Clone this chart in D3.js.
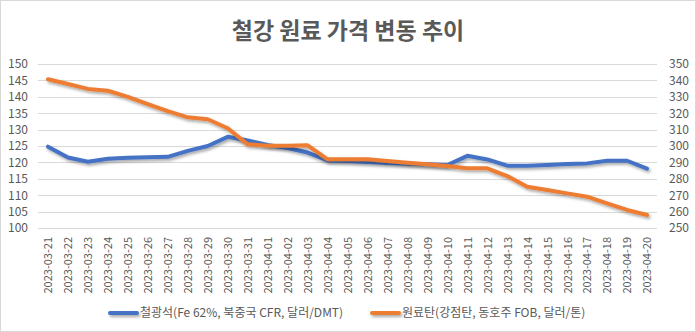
<!DOCTYPE html>
<html>
<head>
<meta charset="utf-8">
<script src="https://cdn.jsdelivr.net/npm/d3@7"></script>
<style>
  body { margin: 0; background: #fff; }
  svg text { font-family: "Noto Sans CJK KR", "Noto Sans", sans-serif; fill: #595959; }
</style>
</head>
<body>
<div id="chart"></div>
<script>
var dates = ["2023-03-21","2023-03-22","2023-03-23","2023-03-24","2023-03-25","2023-03-26","2023-03-27",
  "2023-03-28","2023-03-29","2023-03-30","2023-03-31","2023-04-01","2023-04-02","2023-04-03",
  "2023-04-04","2023-04-05","2023-04-06","2023-04-07","2023-04-08","2023-04-09","2023-04-10",
  "2023-04-11","2023-04-12","2023-04-13","2023-04-14","2023-04-15","2023-04-16","2023-04-17",
  "2023-04-18","2023-04-19","2023-04-20"];

// 철광석, left axis
var ironOre = [124.8,121.5,120.2,121.1,121.4,121.6,121.7,123.5,125.0,127.8,126.7,125.3,124.4,123.0,
  120.6,120.4,120.1,119.8,119.6,119.4,119.2,122.0,120.9,119.0,119.0,119.2,119.5,119.7,120.5,120.5,118.1];

// 원료탄, right axis
var cokingCoal = [340.7,337.8,334.8,333.7,330.0,325.6,321.3,317.5,316.3,310.8,301.0,300.2,300.2,300.4,
  291.9,291.9,291.9,290.8,289.8,288.8,287.8,286.5,286.4,281.7,275.2,273.2,271.1,269.1,265.0,261.0,257.9];

var leftTicks = [100,105,110,115,120,125,130,135,140,145,150];
var rightTicks = [250,260,270,280,290,300,310,320,330,340,350];

var title = "철강 원료 가격 변동 추이";
var seriesNames = ["철광석(Fe 62%, 북중국 CFR, 달러/DMT)", "원료탄(강점탄, 동호주 FOB, 달러/톤)"];
var colors = ["#4472C4", "#ED7D31"];

var W = 696, H = 332;
var margin = {top: 64, right: 39, bottom: 104, left: 38},
    width = W - margin.left - margin.right,
    height = H - margin.top - margin.bottom;

var svg = d3.select("#chart").append("svg")
    .attr("width", W)
    .attr("height", H);

svg.append("rect")
    .attr("x", 0.5).attr("y", 0.5)
    .attr("width", W - 1).attr("height", H - 1)
    .attr("fill", "#fff")
    .attr("stroke", "#d9d9d9");

var defs = svg.append("defs");
defs.append("filter")
    .attr("id", "shadow")
    .attr("filterUnits", "userSpaceOnUse")
    .attr("x", -50).attr("y", -50)
    .attr("width", W + 100).attr("height", H + 100)
  .append("feDropShadow")
    .attr("dx", 1.5).attr("dy", 2)
    .attr("stdDeviation", 1.5)
    .attr("flood-color", "#000")
    .attr("flood-opacity", 0.35);

svg.append("text")
    .attr("x", W / 2)
    .attr("y", 39)
    .attr("text-anchor", "middle")
    .style("font-size", "23px")
    .style("font-weight", "bold")
    .text(title);

var g = svg.append("g")
    .attr("transform", "translate(" + margin.left + "," + margin.top + ")");

var x = d3.scalePoint()
    .domain(dates)
    .range([0, width])
    .padding(0.5);

var yL = d3.scaleLinear().domain([100, 150]).range([height, 0]);
var yR = d3.scaleLinear().domain([250, 350]).range([height, 0]);

// gridlines
g.append("g")
  .selectAll("line")
  .data(leftTicks)
  .join("line")
    .attr("x1", 0).attr("x2", width)
    .attr("y1", function(d) { return Math.round(yL(d)) + 0.5; })
    .attr("y2", function(d) { return Math.round(yL(d)) + 0.5; })
    .attr("stroke", "#d9d9d9")
    .attr("stroke-width", 1);

var axL = g.append("g")
    .call(d3.axisLeft(yL).tickValues(leftTicks).tickSize(0).tickPadding(10));
axL.select(".domain").remove();
axL.selectAll("text").style("font-size", "12px");

var axR = g.append("g")
    .attr("transform", "translate(" + width + ",0)")
    .call(d3.axisRight(yR).tickValues(rightTicks).tickSize(0).tickPadding(12));
axR.select(".domain").remove();
axR.selectAll("text").style("font-size", "12px");

var axX = g.append("g")
    .attr("transform", "translate(0," + height + ")")
    .call(d3.axisBottom(x).tickSize(0));
axX.select(".domain").remove();
axX.selectAll("text")
    .style("font-size", "11px")
    .attr("text-anchor", "end")
    .attr("transform", "rotate(-90)")
    .attr("x", -9)
    .attr("y", 0)
    .attr("dy", "0.35em");

var lineL = d3.line()
    .x(function(d, i) { return x(dates[i]); })
    .y(function(d) { return yL(d); });

var lineR = d3.line()
    .x(function(d, i) { return x(dates[i]); })
    .y(function(d) { return yR(d); });

g.append("path")
    .datum(ironOre)
    .attr("d", lineL)
    .attr("fill", "none")
    .attr("stroke", colors[0])
    .attr("stroke-width", 4)
    .attr("stroke-linejoin", "round")
    .attr("stroke-linecap", "round")
    .attr("filter", "url(#shadow)");

g.append("path")
    .datum(cokingCoal)
    .attr("d", lineR)
    .attr("fill", "none")
    .attr("stroke", colors[1])
    .attr("stroke-width", 4)
    .attr("stroke-linejoin", "round")
    .attr("stroke-linecap", "round")
    .attr("filter", "url(#shadow)");

// legend
var legendX = [110, 372];
var leg = svg.append("g").selectAll("g")
  .data(seriesNames)
  .join("g")
    .attr("transform", function(d, i) { return "translate(" + legendX[i] + ",313)"; });

leg.append("line")
    .attr("x1", 0).attr("x2", 27)
    .attr("stroke", function(d, i) { return colors[i]; })
    .attr("stroke-width", 4)
    .attr("stroke-linecap", "round")
    .attr("filter", "url(#shadow)");

leg.append("text")
    .attr("x", 30)
    .attr("dy", "0.35em")
    .style("font-size", "12px")
    .text(function(d) { return d; });
</script>
</body>
</html>
